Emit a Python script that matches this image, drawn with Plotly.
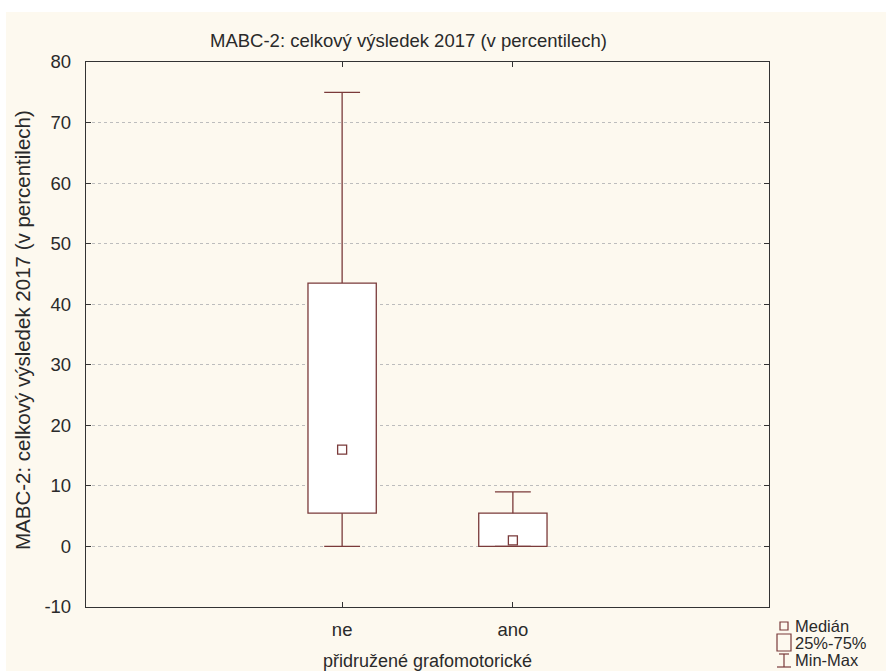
import plotly.graph_objects as go

categories = ["ne", "ano"]
q1 = [5.5, 0.0]
median = [16.0, 1.0]
q3 = [43.5, 5.5]
vmin = [0.0, 0.0]
vmax = [75.0, 9.0]
y_ticks = [-10, 0, 10, 20, 30, 40, 50, 60, 70, 80]
y_ticklabels = ["-10", "0", "10", "20", "30", "40", "50", "60", "70", "80"]

pos = list(range(1, len(categories) + 1))
BOX_W = 0.4
CAP_HALF = 0.105
COL = "#7a3a3a"
FONT = "Liberation Sans, Arial, sans-serif"
TXT = "#2a2a2a"

fig = go.Figure()

# Box (25%-75%)
fig.add_trace(go.Bar(
    x=pos, base=q1, y=[b - a for a, b in zip(q1, q3)], width=BOX_W,
    marker=dict(color="white", line=dict(color=COL, width=1.3)),
    showlegend=False, hoverinfo="skip"))

# Whiskers (Min-Max)
wx, wy = [], []
for p, a, b, lo, hi in zip(pos, q1, q3, vmin, vmax):
    wx += [p, p, None, p - CAP_HALF, p + CAP_HALF, None,
           p, p, None, p - CAP_HALF, p + CAP_HALF, None]
    wy += [b, hi, None, hi, hi, None,
           a, lo, None, lo, lo, None]
fig.add_trace(go.Scatter(x=wx, y=wy, mode="lines",
                         line=dict(color=COL, width=1.3),
                         showlegend=False, hoverinfo="skip"))

# Median
fig.add_trace(go.Scatter(x=pos, y=median, mode="markers",
                         marker=dict(symbol="square-open", size=9, color=COL,
                                     line=dict(width=1.3, color=COL)),
                         showlegend=False))

# plot area: left 86, right 769, top 62, bottom 607
W, H = 886, 671
L, R, T, B = 86, 769, 62, 607
pw, ph = R - L, B - T

def px(x):
    return (x - L) / pw

def py(y):
    return (B - y) / ph

shapes = [
    dict(type="rect", xref="paper", yref="paper", layer="below",
         x0=px(6), x1=px(W + 2), y0=py(H + 2), y1=py(12),
         fillcolor="#fdf9ef", line=dict(width=0)),
    # legend symbols
    dict(type="rect", xref="paper", yref="paper",
         x0=px(780), x1=px(788), y0=py(630), y1=py(622),
         line=dict(color=COL, width=1.2), fillcolor="rgba(0,0,0,0)"),
    dict(type="rect", xref="paper", yref="paper",
         x0=px(777), x1=px(791), y0=py(651), y1=py(634),
         line=dict(color=COL, width=1.2), fillcolor="rgba(0,0,0,0)"),
    dict(type="line", xref="paper", yref="paper",
         x0=px(784), x1=px(784), y0=py(667), y1=py(654),
         line=dict(color=COL, width=1.2)),
    dict(type="line", xref="paper", yref="paper",
         x0=px(779), x1=px(789), y0=py(654), y1=py(654),
         line=dict(color=COL, width=1.2)),
    dict(type="line", xref="paper", yref="paper",
         x0=px(777), x1=px(791), y0=py(667), y1=py(667),
         line=dict(color=COL, width=1.2)),
]

ann = []
for text, yy in [("Medián", 626), ("25%-75%", 643), ("Min-Max", 660)]:
    ann.append(dict(text=text, xref="paper", yref="paper", x=px(794), y=py(yy),
                    xanchor="left", yanchor="middle", showarrow=False,
                    height=16, borderpad=0,
                    font=dict(family=FONT, size=16.5, color=TXT)))
ann.append(dict(text="MABC-2: celkový výsledek 2017 (v percentilech)",
                xref="paper", yref="paper", x=px(408), y=py(40),
                xanchor="center", yanchor="middle", showarrow=False,
                font=dict(family=FONT, size=18.5, color=TXT)))
ann.append(dict(text="přidružené grafomotorické",
                xref="paper", yref="paper", x=px(427), y=py(661),
                xanchor="center", yanchor="middle", showarrow=False,
                font=dict(family=FONT, size=18, color=TXT)))
ann.append(dict(text="MABC-2: celkový výsledek 2017 (v percentilech)",
                xref="paper", yref="paper", x=px(22), y=py(330),
                xanchor="center", yanchor="middle", showarrow=False, textangle=-90,
                font=dict(family=FONT, size=20.5, color=TXT)))

fig.update_layout(
    width=W, height=H,
    margin=dict(l=L, r=W - R, t=T, b=H - B),
    paper_bgcolor="white", plot_bgcolor="white",
    shapes=shapes, annotations=ann, showlegend=False,
    font=dict(family=FONT, size=18, color=TXT),
)
fig.update_xaxes(range=[-0.5, 3.5], tickvals=pos, ticktext=categories,
                 showgrid=False, zeroline=False, showline=True, linecolor="#333",
                 linewidth=1.3, mirror="ticks", ticks="inside", ticklen=5,
                 tickcolor="#333", tickfont=dict(size=18.5, color=TXT),
                 ticklabelstandoff=6)
fig.update_yaxes(range=[-10, 80], tickvals=y_ticks, ticktext=y_ticklabels,
                 showgrid=True, gridcolor="#bdbdbd", griddash="dot", gridwidth=1,
                 zeroline=False, showline=True, linecolor="#333", linewidth=1.3,
                 mirror="ticks", ticks="inside", ticklen=5, tickcolor="#333",
                 tickfont=dict(size=18.5, color=TXT), ticklabelstandoff=10)

fig.write_html("out.html")
